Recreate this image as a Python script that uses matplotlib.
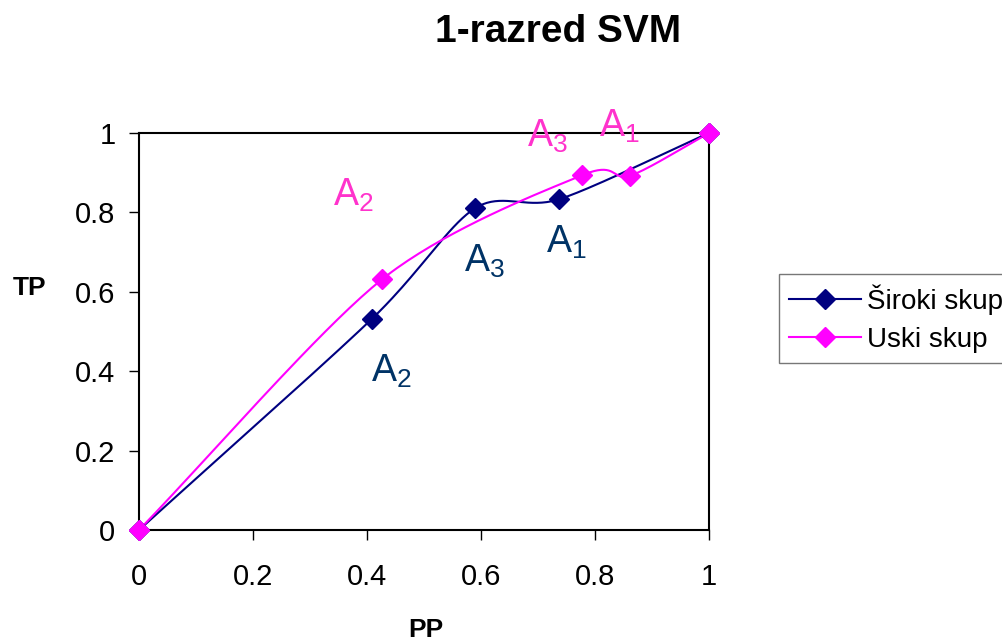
import numpy as np
import matplotlib.pyplot as plt

plt.rcParams["font.family"] = ["Liberation Sans", "DejaVu Sans"]
plt.rcParams["mathtext.fontset"] = "custom"
plt.rcParams["mathtext.rm"] = "Liberation Sans"

# data
siroki_x = [0.0, 0.408, 0.589, 0.737, 1.0]
siroki_y = [0.0, 0.531, 0.810, 0.833, 1.0]
uski_x = [0.0, 0.426, 0.778, 0.861, 1.0]
uski_y = [0.0, 0.631, 0.894, 0.892, 1.0]

siroki_labels = [("A", "2", 0.407, 0.373), ("A", "3", 0.570, 0.650), ("A", "1", 0.714, 0.698)]
uski_labels = [("A", "2", 0.340, 0.816), ("A", "3", 0.680, 0.965), ("A", "1", 0.807, 0.990)]

navy = "#000080"
magenta = "#ff00ff"


def smooth(xs, ys, n=40, k=7.0):
    # Excel-like smoothed line (cardinal bezier)
    p = np.column_stack([xs, ys])
    p = np.vstack([2 * p[0] - p[1], p, 2 * p[-1] - p[-2]])
    out = []
    for i in range(1, len(p) - 2):
        p0, p1, p2, p3 = p[i - 1], p[i], p[i + 1], p[i + 2]
        c1 = p1 + (p2 - p0) / k
        c2 = p2 - (p3 - p1) / k
        t = np.linspace(0, 1, n)[:, None]
        seg = ((1 - t) ** 3) * p1 + 3 * ((1 - t) ** 2) * t * c1 + 3 * (1 - t) * t ** 2 * c2 + t ** 3 * p2
        out.append(seg)
    out = np.vstack(out)
    return out[:, 0], out[:, 1]


fig = plt.figure(figsize=(10.03, 6.44), dpi=100)
ax = fig.add_axes([0.1386, 0.177, 0.5683, 0.6165])

sx, sy = smooth(siroki_x, siroki_y)
ux, uy = smooth(uski_x, uski_y)
ax.plot(sx, sy, color=navy, lw=1.5, zorder=3)
ax.plot(ux, uy, color=magenta, lw=1.5, zorder=3)
ax.plot(siroki_x, siroki_y, "D", color=navy, ms=10, zorder=4, clip_on=False)
ax.plot(uski_x, uski_y, "D", color=magenta, ms=10, zorder=5, clip_on=False)

# legend handles
h1, = ax.plot([], [], color=navy, lw=1.5, marker="D", ms=10, label="Široki skup")
h2, = ax.plot([], [], color=magenta, lw=1.5, marker="D", ms=10, label="Uski skup")

for a, s, x, y in siroki_labels:
    ax.text(x, y, r"%s$_\mathregular{%s}$" % (a, s), color="#003366", fontsize=27,
            ha="left", va="baseline")
for a, s, x, y in uski_labels:
    ax.text(x, y, r"%s$_\mathregular{%s}$" % (a, s), color="#ff33cc", fontsize=27,
            ha="left", va="baseline", clip_on=False)

ax.set_xlim(0, 1)
ax.set_ylim(0, 1)
ticks = [0, 0.2, 0.4, 0.6, 0.8, 1]
tick_labels = ["0", "0.2", "0.4", "0.6", "0.8", "1"]
ax.set_xticks(ticks)
ax.set_xticklabels(tick_labels)
ax.set_yticks(ticks)
ax.set_yticklabels(tick_labels)
ax.tick_params(direction="out", length=7, width=1, labelsize=21, colors="black")
ax.tick_params(axis="x", pad=17)
ax.tick_params(axis="y", pad=10)
for sp in ax.spines.values():
    sp.set_linewidth(1.5)

fig.text(0.556, 0.950, "1-razred SVM", fontsize=28, fontweight="bold", ha="center", va="center")
fig.text(0.425, 0.022, "PP", fontsize=19, fontweight="bold", ha="center", va="center")
fig.text(0.029, 0.553, "TP", fontsize=19, fontweight="bold", ha="center", va="center")

leg = fig.legend(handles=[h1, h2], loc="upper left", bbox_to_anchor=(0.777, 0.574),
                 fontsize=20, frameon=True, fancybox=False, edgecolor="#555555",
                 handlelength=2.6, handletextpad=0.2, borderpad=0.35, labelspacing=0.45,
                 borderaxespad=0)
leg.get_frame().set_linewidth(1.0)

fig.savefig("out.png", dpi=100)
